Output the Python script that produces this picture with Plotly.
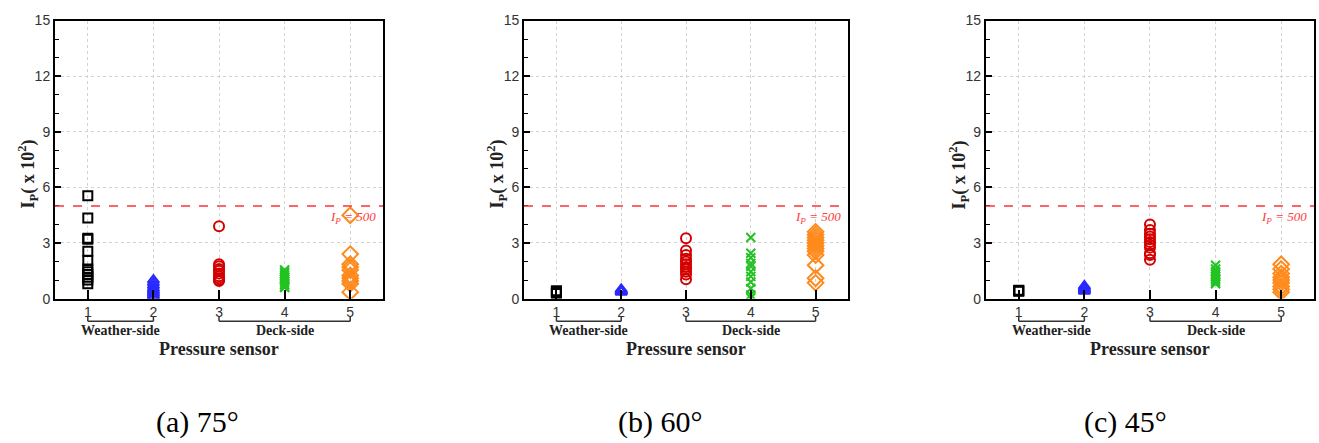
import plotly.graph_objects as go

# ---------------- data ----------------
sensors = [1, 2, 3, 4, 5]
sensor_ticks = ["1", "2", "3", "4", "5"]
panel_captions = ["(a) 75°", "(b) 60°", "(c) 45°"]

# Panel (a) 75 deg
a_s1 = [5.55, 4.35, 3.25, 3.2, 2.55, 2.05, 1.6, 1.45, 1.3, 1.15, 1.0, 0.8]
a_s2 = [1.0, 0.85, 0.7, 0.55, 0.45, 0.35, 0.25, 0.15, 0.1, 0.05]
a_s3 = [3.9, 1.85, 1.75, 1.6, 1.5, 1.35, 1.2, 1.1, 1.0, 0.95]
a_s4 = [1.55, 1.45, 1.35, 1.25, 1.15, 1.05, 0.95, 0.85, 0.75, 0.65, 0.6]
a_s5 = [4.5, 2.4, 1.85, 1.7, 1.55, 1.25, 1.1, 0.95, 0.8, 0.35]

# Panel (b) 60 deg
b_s1 = [0.42, 0.38, 0.35, 0.32, 0.28]
b_s2 = [0.5, 0.45, 0.42, 0.38, 0.35]
b_s3 = [3.25, 2.6, 2.35, 2.15, 2.0, 1.85, 1.7, 1.6, 1.45, 1.3, 1.05]
b_s4 = [3.3, 2.45, 2.2, 1.9, 1.75, 1.45, 1.2, 0.9, 0.55, 0.2, 0.05]
b_s5 = [3.6, 3.45, 3.3, 3.15, 3.0, 2.85, 2.7, 2.55, 2.35, 1.8, 1.1, 0.85]

# Panel (c) 45 deg
c_s1 = [0.45, 0.42, 0.4]
c_s2 = [0.68, 0.62, 0.55, 0.5, 0.45, 0.4]
c_s3 = [4.0, 3.7, 3.5, 3.35, 3.2, 3.05, 2.9, 2.75, 2.45, 2.35, 2.1]
c_s4 = [1.8, 1.6, 1.45, 1.3, 1.2, 1.1, 1.0, 0.9, 0.8]
c_s5 = [1.85, 1.6, 1.35, 1.15, 1.0, 0.85, 0.65, 0.5, 0.35]

threshold = 5.0
threshold_label = "<i>I<sub>P</sub> = 500</i>"

panels = [
    [a_s1, a_s2, a_s3, a_s4, a_s5],
    [b_s1, b_s2, b_s3, b_s4, b_s5],
    [c_s1, c_s2, c_s3, c_s4, c_s5],
]

# ---------------- styles ----------------
symbols = ["square-open", "triangle-up-open", "circle-open", "x-thin-open", "diamond-open"]
colors = ["#000000", "#2a2aff", "#d40000", "#22c322", "#ff8a1c"]
msizes = [9, 10, 10, 9, 12]

x_domains = [[0.0417, 0.2904], [0.3973, 0.6429], [0.7475, 0.9962]]
y_domain = [0.3194, 0.9707]
caption_x = [0.1494, 0.5004, 0.853]

fig = go.Figure()
shapes = []
annotations = []
serif = "Times New Roman, Liberation Serif, DejaVu Serif, serif"

for p, series in enumerate(panels):
    sfx = "" if p == 0 else str(p + 1)
    xa, ya = "x" + sfx, "y" + sfx
    for i, vals in enumerate(series):
        fig.add_trace(go.Scatter(
            x=[sensors[i]] * len(vals), y=vals, mode="markers",
            xaxis=xa, yaxis=ya, showlegend=False,
            marker=dict(symbol=symbols[i], size=msizes[i], color=colors[i],
                        line=dict(color=colors[i], width=2)),
        ))
    common_axis = dict(showline=True, linecolor="black", linewidth=2, mirror=True,
                       showgrid=True, gridcolor="#d2d2d2", griddash="dot", gridwidth=1,
                       zeroline=False,
                       tickfont=dict(family="Arial, Liberation Sans, sans-serif", size=14,
                                     color="#333333"))
    fig.update_layout(**{
        "xaxis" + sfx: dict(domain=x_domains[p], range=[0.5, 5.5], anchor=ya,
                            tickvals=sensors, ticktext=sensor_ticks,
                            ticks="inside", ticklen=9, tickwidth=2, tickcolor="black",
                            **common_axis),
        "yaxis" + sfx: dict(domain=y_domain, range=[0, 15], anchor=xa,
                            tick0=0, dtick=3, ticks="inside", ticklen=6, tickwidth=2,
                            tickcolor="black",
                            minor=dict(dtick=1, ticks="inside", ticklen=4, tickcolor="black",
                                       tickwidth=1, showgrid=False),
                            **common_axis),
    })
    xd = xa + " domain"
    # threshold line
    shapes.append(dict(type="line", xref=xd, yref=ya, x0=0, x1=1, y0=threshold, y1=threshold,
                       line=dict(color="#ff3030", width=1.5, dash="dash")))
    annotations.append(dict(xref=xd, yref=ya, x=0.985, y=threshold, xanchor="right",
                            yanchor="top", yshift=-1, showarrow=False, text=threshold_label,
                            font=dict(family=serif, size=13, color="#ff3b3b")))
    # brackets
    for (x0, x1, label) in [(1, 2, "Weather-side"), (3, 5, "Deck-side")]:
        for xv in (x0, x1):
            shapes.append(dict(type="line", xref=xa, yref="paper", x0=xv, x1=xv,
                               y0=0.2785, y1=0.2664, line=dict(color="#333333", width=1.5)))
        shapes.append(dict(type="line", xref=xa, yref="paper", x0=x0, x1=x1,
                           y0=0.2664, y1=0.2664, line=dict(color="#333333", width=1.5)))
        annotations.append(dict(xref=xa, yref="paper", x=(x0 + x1) / 2, y=0.2438,
                                xanchor="center", yanchor="middle", showarrow=False,
                                text="<b>" + label + "</b>",
                                font=dict(family=serif, size=14, color="#222222")))
    annotations.append(dict(xref=xa, yref="paper", x=3, y=0.2009, xanchor="center",
                            yanchor="middle", showarrow=False, text="<b>Pressure sensor</b>",
                            font=dict(family=serif, size=18, color="#222222")))
    annotations.append(dict(xref="paper", yref="paper", x=x_domains[p][0], xshift=-27,
                            y=0.61, xanchor="center", yanchor="middle", textangle=-90,
                            showarrow=False,
                            text="<b>I<sub>P</sub>( x 10<sup>2</sup>)</b>",
                            font=dict(family=serif, size=18, color="#222222")))
    annotations.append(dict(xref="paper", yref="paper", x=caption_x[p], y=0.03,
                            xanchor="center", yanchor="middle", showarrow=False,
                            text=panel_captions[p],
                            font=dict(family=serif, size=30, color="black")))

fig.update_layout(width=1319, height=443, margin=dict(l=0, r=0, t=0, b=0),
                  paper_bgcolor="white", plot_bgcolor="white",
                  shapes=shapes, annotations=annotations)

fig.write_html("out.html")
